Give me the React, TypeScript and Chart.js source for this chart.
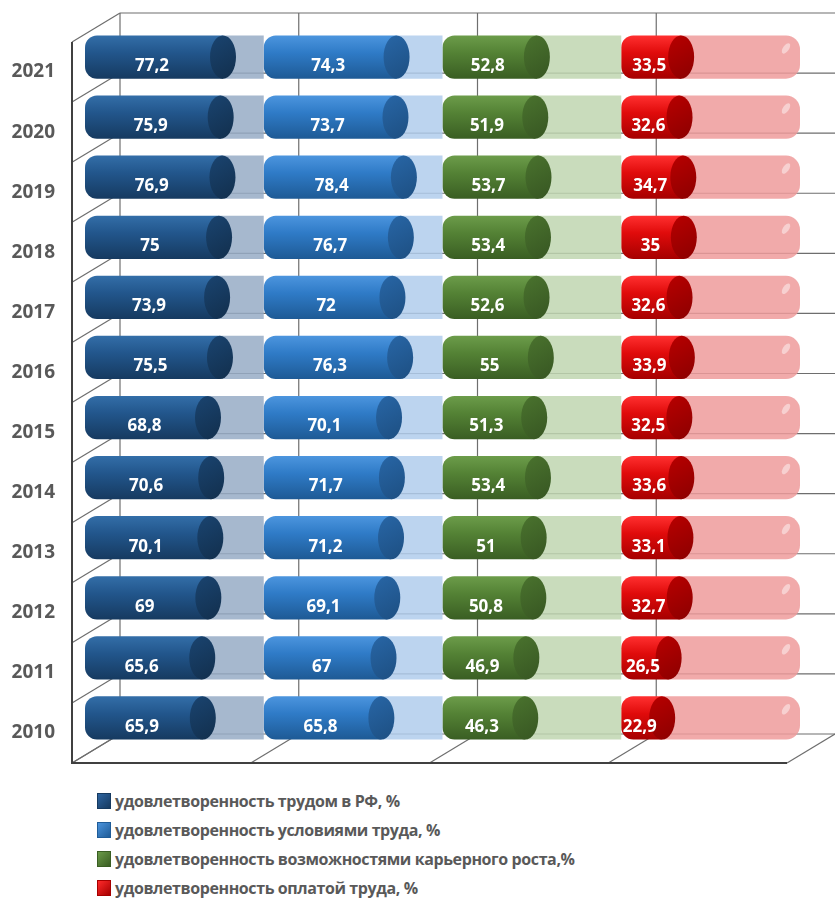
import React, { useEffect, useRef } from "react";
import { Chart, registerables } from "chart.js";

Chart.register(...registerables);

const years = ["2010", "2011", "2012", "2013", "2014", "2015", "2016", "2017", "2018", "2019", "2020", "2021"];
const workSat = [65.9, 65.6, 69, 70.1, 70.6, 68.8, 75.5, 73.9, 75, 76.9, 75.9, 77.2];
const conditionsSat = [65.8, 67, 69.1, 71.2, 71.7, 70.1, 76.3, 72, 76.7, 78.4, 73.7, 74.3];
const careerSat = [46.3, 46.9, 50.8, 51, 53.4, 51.3, 55, 52.6, 53.4, 53.7, 51.9, 52.8];
const paySat = [22.9, 26.5, 32.7, 33.1, 33.6, 32.5, 33.9, 32.6, 35, 34.7, 32.6, 33.5];
const seriesNames = [
  "удовлетворенность трудом в РФ, %",
  "удовлетворенность условиями труда, %",
  "удовлетворенность возможностями карьерного роста,%",
  "удовлетворенность оплатой труда, %",
];
const panelMax = 100;

const palettes = [
  { hi: "#336ea8", base: "#22568c", lo: "#163a60", cap: "#1a4470", capLo: "#122f4d", track: "rgba(150,172,198,0.85)" },
  { hi: "#4c95de", base: "#2f7bc7", lo: "#1e5a95", cap: "#2866a6", capLo: "#1d4f82", track: "rgba(176,204,236,0.85)" },
  { hi: "#6c9c4a", base: "#548235", lo: "#3a5e23", cap: "#4a732e", capLo: "#375622", track: "rgba(192,214,176,0.85)" },
  { hi: "#ff3030", base: "#e00b0b", lo: "#a60000", cap: "#b80000", capLo: "#8c0000", track: "rgba(239,155,155,0.85)" },
];

const FX = -13, FY = 15, BX = 35, BY = -14;

const frame3d = {
  id: "frame3d",
  beforeDatasetsDraw(chart: any) {
    const { ctx, chartArea } = chart;
    const xs = chart.scales.x;
    const top = chartArea.top, bottom = chartArea.bottom;
    const n = years.length;
    const step = (bottom - top) / n;
    const ticks = [0, 100, 200, 300, 400].map((v) => xs.getPixelForValue(v));
    const x0 = ticks[0], xN = ticks[ticks.length - 1];
    ctx.save();
    ctx.strokeStyle = "#6e6e6e";
    ctx.lineWidth = 1.2;
    ticks.forEach((x: number, i: number) => {
      if (i === ticks.length - 1) return;
      ctx.beginPath();
      ctx.moveTo(x + BX, top + BY);
      ctx.lineTo(x + BX, bottom + BY);
      ctx.stroke();
    });
    for (let k = 0; k <= n; k++) {
      const b = top + k * step;
      ctx.beginPath();
      ctx.moveTo(x0 + BX, b + BY);
      ctx.lineTo(xN + BX, b + BY);
      ctx.stroke();
      ctx.beginPath();
      ctx.moveTo(x0 + FX, b + FY);
      ctx.lineTo(x0 + BX, b + BY);
      ctx.stroke();
    }
    ticks.forEach((x: number) => {
      ctx.beginPath();
      ctx.moveTo(x + FX, bottom + FY);
      ctx.lineTo(x + BX, bottom + BY);
      ctx.stroke();
    });
    ctx.strokeStyle = "#404040";
    ctx.lineWidth = 2;
    ctx.beginPath();
    ctx.moveTo(x0 + FX, top + FY);
    ctx.lineTo(x0 + FX, bottom + FY);
    ctx.lineTo(xN + FX, bottom + FY);
    ctx.stroke();
    ctx.restore();
  },
};

const caps = {
  id: "caps",
  afterDatasetsDraw(chart: any) {
    const { ctx } = chart;
    chart.data.datasets.forEach((ds: any, di: number) => {
      const meta = chart.getDatasetMeta(di);
      const p = palettes[ds.series];
      if (ds.kind === "light" && ds.series === 3) {
        meta.data.forEach((el: any) => {
          const h = el.height;
          ctx.save();
          ctx.fillStyle = "rgba(255,255,255,0.45)";
          ctx.beginPath();
          ctx.ellipse(el.x - 14, el.y - h * 0.2, 3, 6, 0.6, 0, Math.PI * 2);
          ctx.fill();
          ctx.restore();
        });
      }
      if (ds.kind !== "dark") return;
      meta.data.forEach((el: any, i: number) => {
        const h = el.height;
        const rx = 13;
        ctx.save();
        const g = ctx.createLinearGradient(el.x - rx, el.y - h / 2, el.x + rx, el.y + h / 2);
        g.addColorStop(0, p.cap);
        g.addColorStop(1, p.capLo);
        ctx.fillStyle = g;
        ctx.beginPath();
        ctx.ellipse(el.x, el.y, rx, h / 2, 0, 0, Math.PI * 2);
        ctx.fill();
        ctx.restore();
        const v = ds.data[i];
        ctx.save();
        ctx.fillStyle = "#ffffff";
        ctx.font = "bold 17px 'Open Sans'";
        ctx.textAlign = "center";
        ctx.textBaseline = "middle";
        ctx.fillText(String(v).replace(".", ","), (el.base + el.x) / 2 - 2, el.y + 9);
        ctx.restore();
      });
    });
  },
};

function bodyGradient(p: any) {
  return (c: any) => {
    const chart = c.chart;
    const ys = chart.scales && chart.scales.y;
    if (!ys || c.dataIndex === undefined) return p.base;
    const yc = ys.getPixelForValue(c.dataIndex);
    const half = (Math.abs(ys.getPixelForValue(1) - ys.getPixelForValue(0)) * 0.72) / 2;
    if (!isFinite(yc) || !isFinite(half) || half <= 0) return p.base;
    const g = chart.ctx.createLinearGradient(0, yc - half, 0, yc + half);
    g.addColorStop(0, p.hi);
    g.addColorStop(0.4, p.base);
    g.addColorStop(1, p.lo);
    return g;
  };
}

export default function App() {
  const ref = useRef<HTMLCanvasElement>(null);
  useEffect(() => {
    const allSeries = [workSat, conditionsSat, careerSat, paySat];
    const datasets: any[] = [];
    allSeries.forEach((vals, s) => {
      const p = palettes[s];
      datasets.push({
        label: seriesNames[s],
        data: vals,
        kind: "dark",
        series: s,
        backgroundColor: bodyGradient(p),
        borderWidth: 0,
        borderSkipped: false,
        borderRadius: { topLeft: 12, bottomLeft: 12, topRight: 0, bottomRight: 0 },
        stack: "all",
      });
      datasets.push({
        label: seriesNames[s] + " (остаток)",
        data: vals.map((v) => panelMax - v),
        kind: "light",
        series: s,
        backgroundColor: p.track,
        borderWidth: 0,
        borderSkipped: false,
        borderRadius: s === 3 ? { topLeft: 0, bottomLeft: 0, topRight: 14, bottomRight: 14 } : 0,
        stack: "all",
      });
    });
    const chart = new Chart(ref.current as HTMLCanvasElement, {
      type: "bar",
      data: { labels: years, datasets },
      options: {
        indexAxis: "y",
        animation: false,
        responsive: true,
        maintainAspectRatio: false,
        layout: { padding: { top: 27, bottom: 27, right: 35, left: 0 } },
        datasets: { bar: { barPercentage: 0.72, categoryPercentage: 1 } },
        scales: {
          x: { stacked: true, min: 0, max: 400, display: false },
          y: {
            stacked: true,
            reverse: true,
            grid: { display: false, drawTicks: false },
            border: { display: false },
            ticks: {
              color: "#595959",
              font: { family: "'Open Sans'", weight: "bold", size: 19 },
              padding: 30,
              labelOffset: 15,
            },
            afterFit: (scale: any) => {
              scale.width = 85;
              scale.paddingTop = 0;
              scale.paddingBottom = 0;
            },
          },
        },
        plugins: { legend: { display: false }, tooltip: { enabled: false } },
      } as any,
      plugins: [frame3d, caps],
    });
    return () => chart.destroy();
  }, []);

  const legendColors = [
    ["#2d64a0", "#163a60"],
    ["#4a93dc", "#1f5c98"],
    ["#6a9a48", "#3a5e23"],
    ["#ff2a2a", "#a60000"],
  ];

  return (
    <div style={{ position: "absolute", left: 0, top: 0, width: 835, height: 899, background: "#fff" }}>
      <div style={{ position: "absolute", left: 0, top: 0, width: 835, height: 775 }}>
        <canvas ref={ref} />
      </div>
      <div
        style={{
          position: "absolute",
          left: 97,
          top: 786,
          fontFamily: "'Open Sans', sans-serif",
          fontWeight: "bold",
          fontSize: 16,
          letterSpacing: "-0.4px",
          color: "#595959",
        }}
      >
        {seriesNames.map((name, i) => (
          <div key={i} style={{ display: "flex", alignItems: "center", height: 29 }}>
            <span
              style={{
                display: "inline-block",
                width: 14,
                height: 16,
                marginRight: 4,
                background: `linear-gradient(135deg, ${legendColors[i][0]}, ${legendColors[i][1]})`,
                border: `1px solid ${legendColors[i][1]}`,
                boxSizing: "border-box",
              }}
            />
            <span>{name}</span>
          </div>
        ))}
      </div>
    </div>
  );
}
